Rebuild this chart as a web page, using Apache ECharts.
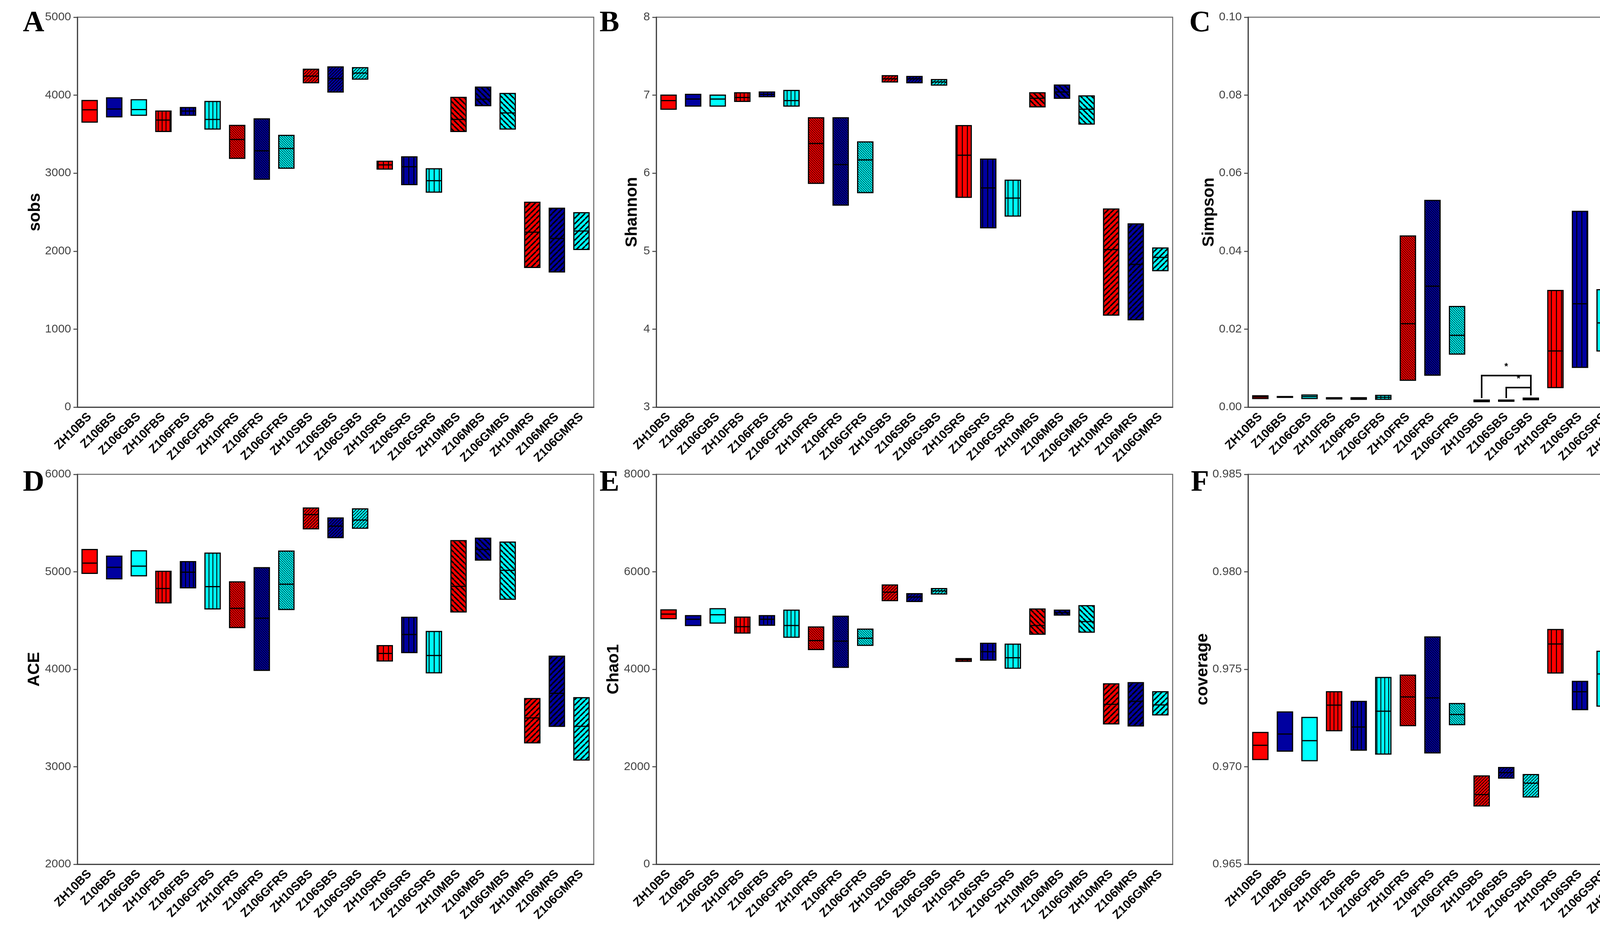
<!DOCTYPE html>
<html>
<head>
<meta charset="utf-8">
<title>Alpha diversity</title>
<script src="https://cdn.jsdelivr.net/npm/echarts@6/dist/echarts.min.js"></script>
<style>
html, body { margin: 0; padding: 0; background: #fff; }
#chart { width: 4564px; height: 2388px; }
</style>
</head>
<body>
<div id="chart"></div>
<script type="text/javascript">
var categories = ['ZH10BS', 'Z106BS', 'Z106GBS', 'ZH10FBS', 'Z106FBS', 'Z106GFBS', 'ZH10FRS', 'Z106FRS', 'Z106GFRS',
    'ZH10SBS', 'Z106SBS', 'Z106GSBS', 'ZH10SRS', 'Z106SRS', 'Z106GSRS', 'ZH10MBS', 'Z106MBS', 'Z106GMBS',
    'ZH10MRS', 'Z106MRS', 'Z106GMRS'];

// A - sobs
var sobsMax = [3931, 3965, 3942, 3796, 3842, 3919, 3612, 3696, 3485, 4333, 4363, 4352, 3152, 3209, 3056, 3972, 4103, 4022, 2627, 2550, 2492];
var sobsMed = [3812, 3823, 3815, 3681, 3796, 3689, 3432, 3286, 3317, 4245, 4214, 4283, 3106, 3083, 2903, 3689, 3949, 3773, 2243, 2163, 2258];
var sobsMin = [3655, 3723, 3742, 3535, 3742, 3566, 3190, 2922, 3064, 4160, 4041, 4206, 3052, 2853, 2757, 3535, 3865, 3566, 1791, 1733, 2021];

// B - Shannon
var shannonMax = [7.00, 7.01, 7.00, 7.03, 7.04, 7.06, 6.71, 6.71, 6.40, 7.25, 7.24, 7.20, 6.61, 6.18, 5.91, 7.03, 7.13, 6.99, 5.54, 5.35, 5.04];
var shannonMed = [6.93, 6.95, 6.95, 6.97, 7.01, 6.93, 6.38, 6.11, 6.17, 7.21, 7.21, 7.17, 6.23, 5.81, 5.68, 6.96, 7.04, 6.82, 5.02, 4.83, 4.92];
var shannonMin = [6.82, 6.86, 6.86, 6.92, 6.98, 6.86, 5.87, 5.59, 5.75, 7.17, 7.16, 7.13, 5.69, 5.30, 5.45, 6.85, 6.96, 6.63, 4.18, 4.12, 4.75];

// C - Simpson
var simpsonMax = [0.0029, 0.0027, 0.0031, 0.0024, 0.0024, 0.0030, 0.0439, 0.0530, 0.0258, 0.0018, 0.0018, 0.0023, 0.0299, 0.0502, 0.0301, 0.0027, 0.0025, 0.0065, 0.0657, 0.0818, 0.0912];
var simpsonMed = [0.0026, 0.0026, 0.0027, 0.0023, 0.0022, 0.0025, 0.0214, 0.0310, 0.0184, 0.0016, 0.0017, 0.0021, 0.0144, 0.0265, 0.0216, 0.0026, 0.0023, 0.0044, 0.0401, 0.0461, 0.0611];
var simpsonMin = [0.0022, 0.0025, 0.0022, 0.0021, 0.0020, 0.0020, 0.0069, 0.0082, 0.0136, 0.0014, 0.0015, 0.0019, 0.0050, 0.0102, 0.0144, 0.0025, 0.0020, 0.0028, 0.0189, 0.0259, 0.0326];

// D - ACE
var aceMax = [5228, 5160, 5215, 5005, 5104, 5191, 4897, 5042, 5212, 5654, 5552, 5645, 4242, 4533, 4388, 5320, 5345, 5305, 3699, 4134, 3708];
var aceMed = [5089, 5046, 5058, 4829, 4996, 4848, 4625, 4524, 4873, 5586, 5469, 5531, 4162, 4357, 4141, 4851, 5228, 5015, 3501, 3754, 3415];
var aceMin = [4984, 4928, 4959, 4681, 4836, 4619, 4428, 3989, 4613, 5441, 5351, 5447, 4085, 4171, 3964, 4588, 5120, 4718, 3245, 3415, 3069];

// E - Chao1
var chaoMax = [5218, 5101, 5243, 5070, 5101, 5212, 4867, 5089, 4823, 5730, 5551, 5656, 4219, 4534, 4515, 5237, 5212, 5305, 3701, 3726, 3540];
var chaoMed = [5132, 5027, 5119, 4873, 5027, 4897, 4589, 4577, 4638, 5582, 5483, 5607, 4194, 4361, 4237, 4897, 5163, 4978, 3281, 3343, 3269];
var chaoMin = [5039, 4897, 4947, 4743, 4904, 4657, 4404, 4040, 4490, 5409, 5391, 5545, 4163, 4188, 4022, 4719, 5113, 4762, 2880, 2837, 3065];

// F - coverage
var coverageMax = [0.97176, 0.97281, 0.97253, 0.97385, 0.97335, 0.97458, 0.97470, 0.97666, 0.97324, 0.96953, 0.96996, 0.96960, 0.97704, 0.97438, 0.97592, 0.97488, 0.97107, 0.97358, 0.98127, 0.98189, 0.98209];
var coverageMed = [0.97110, 0.97168, 0.97134, 0.97316, 0.97204, 0.97285, 0.97358, 0.97353, 0.97268, 0.96857, 0.96970, 0.96916, 0.97630, 0.97385, 0.97476, 0.97294, 0.97050, 0.97157, 0.97994, 0.97935, 0.98061];
var coverageMin = [0.97037, 0.97080, 0.97031, 0.97185, 0.97085, 0.97065, 0.97211, 0.97071, 0.97216, 0.96799, 0.96942, 0.96845, 0.97481, 0.97293, 0.97311, 0.96988, 0.97014, 0.96993, 0.97761, 0.97746, 0.97927];

// significance brackets in C (category index from/to, bracket height, leg ends)
var bracketFrom = [9, 10];
var bracketTo = [11, 11];
var bracketTop = [0.0081, 0.0050];
var bracketLeftEnd = [0.0023, 0.0023];
var bracketRightEnd = [0.0030, 0.0030];

var boxColors = ['#ff0000', '#0000a0', '#00ffff'];
// one hatch per group of three samples
var groupHatch = ['solid', 'vert', 'backDense', 'slash', 'vertWide', 'backWide', 'slashWide'];
var hatchSpec = {
    vert: { p: 10, lw: 2.2 },
    backDense: { p: 6, lw: 1.3 },
    slash: { p: 8, lw: 1.8 },
    vertWide: { p: 13, lw: 2.4 },
    backWide: { p: 14, lw: 3.8 },
    slashWide: { p: 14, lw: 3.8 }
};

function makeFill(color, kind) {
    if (kind == 'solid') return color;
    var p = hatchSpec[kind].p;
    var cv = document.createElement('canvas');
    cv.width = p;
    cv.height = p;
    var ctx = cv.getContext('2d');
    ctx.fillStyle = color;
    ctx.fillRect(0, 0, p, p);
    ctx.strokeStyle = '#000';
    ctx.lineWidth = hatchSpec[kind].lw;
    ctx.beginPath();
    if (kind == 'vert' || kind == 'vertWide') {
        ctx.moveTo(p / 2, 0);
        ctx.lineTo(p / 2, p);
    } else {
        for (var k = -1; k <= 1; k++) {
            if (kind.indexOf('back') == 0) {
                ctx.moveTo(k * p, 0);
                ctx.lineTo(k * p + p, p);
            } else {
                ctx.moveTo(k * p, p);
                ctx.lineTo(k * p + p, 0);
            }
        }
    }
    ctx.stroke();
    return { image: cv, repeat: 'repeat' };
}

var fills = [];
for (var i = 0; i < categories.length; i++) {
    fills.push(makeFill(boxColors[i % 3], groupHatch[Math.floor(i / 3)]));
}

function renderBox(params, api) {
    var idx = params.dataIndex;
    var x = api.value(0);
    var lo = api.coord([x, api.value(1)]);
    var md = api.coord([x, api.value(2)]);
    var hi = api.coord([x, api.value(3)]);
    var w = api.size([1, 0])[0] * 0.62;
    return {
        type: 'group',
        children: [
            {
                type: 'rect',
                shape: { x: lo[0] - w / 2, y: hi[1], width: w, height: lo[1] - hi[1] },
                style: { fill: fills[idx], stroke: '#000', lineWidth: 3 }
            },
            {
                type: 'line',
                shape: { x1: lo[0] - w / 2, y1: md[1], x2: lo[0] + w / 2, y2: md[1] },
                style: { stroke: '#000', lineWidth: 3 }
            }
        ]
    };
}

function renderBracket(params, api) {
    var a = api.coord([api.value(0), api.value(3)]);
    var b = api.coord([api.value(0), api.value(2)]);
    var c = api.coord([api.value(1), api.value(2)]);
    var d = api.coord([api.value(1), api.value(4)]);
    return {
        type: 'group',
        children: [
            {
                type: 'polyline',
                shape: { points: [a, b, c, d] },
                style: { stroke: '#000', lineWidth: 4, fill: null }
            },
            {
                type: 'text',
                style: {
                    text: '*', x: (b[0] + c[0]) / 2, y: b[1] - 10,
                    align: 'center', verticalAlign: 'bottom',
                    font: 'bold 24px "Liberation Sans", Arial', fill: '#000'
                }
            }
        ]
    };
}

var panels = [
    { letter: 'A', name: 'sobs', min: 0, max: 5000, interval: 1000, dec: 0, gap: 84, lo: sobsMin, md: sobsMed, hi: sobsMax },
    { letter: 'B', name: 'Shannon', min: 3, max: 8, interval: 1, dec: 0, gap: 41, lo: shannonMin, md: shannonMed, hi: shannonMax },
    { letter: 'C', name: 'Simpson', min: 0, max: 0.1, interval: 0.02, dec: 2, gap: 75, lo: simpsonMin, md: simpsonMed, hi: simpsonMax },
    { letter: 'D', name: 'ACE', min: 2000, max: 6000, interval: 1000, dec: 0, gap: 89, lo: aceMin, md: aceMed, hi: aceMax },
    { letter: 'E', name: 'Chao1', min: 0, max: 8000, interval: 2000, dec: 0, gap: 88, lo: chaoMin, md: chaoMed, hi: chaoMax },
    { letter: 'F', name: 'coverage', min: 0.965, max: 0.985, interval: 0.005, dec: 3, gap: 95, lo: coverageMin, md: coverageMed, hi: coverageMax }
];

var gridLefts = [198, 1680, 3195];
var gridTops = [44, 1214];
var letterX = [86, 1560, 3072];
var letterY = [60, 1236];

var grids = [], xAxes = [], yAxes = [], series = [], graphics = [];

panels.forEach(function (pn, k) {
    var col = k % 3, row = Math.floor(k / 3);
    grids.push({
        left: gridLefts[col], top: gridTops[row], width: 1322, height: 998,
        show: true, borderColor: '#666', borderWidth: 2.5, backgroundColor: 'transparent'
    });
    xAxes.push({
        type: 'category', gridIndex: k, data: categories, boundaryGap: true,
        axisLine: { lineStyle: { color: '#444', width: 3 } },
        axisTick: { alignWithLabel: true, interval: 0, length: 10, lineStyle: { color: '#444', width: 2.5 } },
        axisLabel: {
            interval: 0, rotate: 45, margin: 20,
            fontFamily: '"Liberation Sans", Arial, sans-serif', fontWeight: 'bold', fontSize: 31, color: '#000'
        },
        splitLine: { show: false }
    });
    yAxes.push({
        type: 'value', gridIndex: k, min: pn.min, max: pn.max, interval: pn.interval,
        name: pn.name, nameLocation: 'middle', nameRotate: 90, nameGap: pn.gap,
        nameTextStyle: { fontFamily: '"Liberation Sans", Arial, sans-serif', fontWeight: 'bold', fontSize: 42, color: '#000' },
        axisLine: { show: true, lineStyle: { color: '#444', width: 3 } },
        axisTick: { show: true, length: 10, lineStyle: { color: '#444', width: 2.5 } },
        axisLabel: {
            margin: 16, fontFamily: '"Liberation Sans", Arial, sans-serif', fontSize: 30, color: '#444',
            formatter: (function (d) { return function (v) { return v.toFixed(d); }; })(pn.dec)
        },
        splitLine: { show: false }
    });
    var data = [];
    for (var i = 0; i < categories.length; i++) {
        data.push([i, pn.lo[i], pn.md[i], pn.hi[i]]);
    }
    series.push({
        type: 'custom', name: pn.name, xAxisIndex: k, yAxisIndex: k,
        renderItem: renderBox,
        encode: { x: 0, y: [1, 2, 3] },
        data: data
    });
    graphics.push({
        type: 'text', x: letterX[col], y: letterY[row],
        style: {
            text: pn.letter, align: 'center', verticalAlign: 'middle',
            font: 'bold 76px "Liberation Serif", "Times New Roman", serif', fill: '#000'
        }
    });
});

var bracketData = [];
for (var b = 0; b < bracketFrom.length; b++) {
    bracketData.push([bracketFrom[b], bracketTo[b], bracketTop[b], bracketLeftEnd[b], bracketRightEnd[b]]);
}
series.push({
    type: 'custom', name: 'significance', xAxisIndex: 2, yAxisIndex: 2, z: 5,
    renderItem: renderBracket,
    encode: { x: [0, 1], y: [2, 3, 4] },
    data: bracketData
});

var chart = echarts.init(document.getElementById('chart'));
chart.setOption({
    backgroundColor: '#fff',
    animation: false,
    grid: grids,
    xAxis: xAxes,
    yAxis: yAxes,
    series: series,
    graphic: graphics
});
</script>
</body>
</html>
